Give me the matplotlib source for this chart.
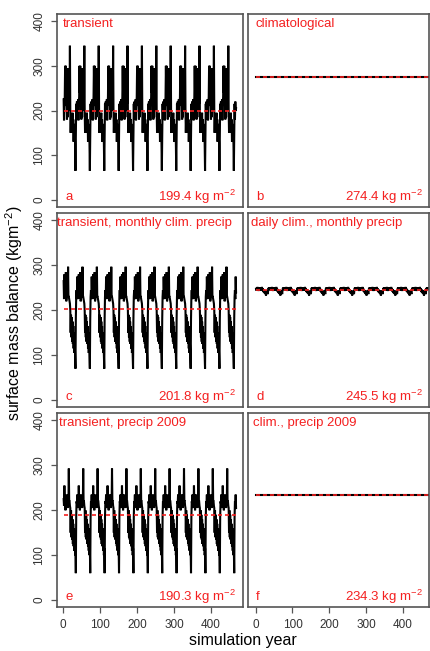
import numpy as np
import matplotlib
matplotlib.use("Agg")
import matplotlib.pyplot as plt

plt.rcParams['font.family'] = ['Liberation Sans', 'DejaVu Sans']
plt.rcParams['mathtext.fontset'] = 'custom'
plt.rcParams['mathtext.rm'] = 'Liberation Sans'

# one 39-year forcing cycle per run, repeated over the simulation
n_cycles = 12
years = np.arange(1, 39 * n_cycles + 1)

smb_a = [225, 178, 215, 230, 300, 240, 300, 210, 225, 180, 230, 185, 295, 215, 200,
         240, 215, 345, 200, 150, 185, 160, 190, 175, 195, 150, 180, 130, 170, 135,
         160, 125, 65, 150, 215, 180, 220, 200, 205]
smb_b = [274.4] * 39
smb_c = [265, 225, 280, 235, 270, 230, 285, 220, 225, 250, 235, 235, 297, 230, 230,
         225, 220, 215, 200, 150, 190, 140, 185, 130, 175, 125, 165, 115, 150, 105,
         130, 95, 70, 180, 230, 245, 225, 275, 240]
smb_d = [248, 244, 250, 246, 252, 247, 249, 243, 250, 246, 251, 245, 248, 244, 250,
         247, 252, 246, 249, 242, 247, 240, 245, 238, 244, 236, 242, 233, 240, 238,
         244, 240, 236, 245, 250, 247, 251, 245, 249]
smb_e = [225, 210, 255, 215, 220, 200, 235, 220, 210, 230, 225, 205, 235, 215, 293,
         220, 220, 210, 205, 150, 200, 140, 190, 135, 180, 125, 170, 120, 160, 110,
         150, 100, 115, 60, 185, 220, 215, 235, 205]
smb_f = [234.3] * 39

series = [smb_a, smb_b, smb_c, smb_d, smb_e, smb_f]
means = [199.4, 274.4, 201.8, 245.5, 190.3, 234.3]
titles = ["transient", "climatological", "transient, monthly clim. precip",
          "daily clim., monthly precip", "transient, precip 2009", "clim., precip 2009"]
letters = ["a", "b", "c", "d", "e", "f"]

W, H = 430, 651
col_l = [57, 248.3]
col_r = [242.7, 429.5]
row_t = [14, 213.3, 413.3]
row_b = [207, 407.3, 607.3]
title_x = [6, 7, 0.5, 3, 2, 5]   # px offset of the title from the box edge
xlims = [(-17, 486), (-20, 472)]

red = '#f42020'
grey = '#555555'

fig = plt.figure(figsize=(W / 100, H / 100), dpi=100)

for i in range(6):
    r, c = divmod(i, 2)
    l, rr, t, b = col_l[c], col_r[c], row_t[r], row_b[r]
    ax = fig.add_axes([l / W, 1 - b / H, (rr - l) / W, (b - t) / H])

    vals = np.tile(series[i], n_cycles)
    ax.plot(years, vals, color='black', lw=1.5, solid_joinstyle='miter')
    ax.hlines(means[i], years[0], years[-1], colors=red, lw=1.2,
              linestyles=(0, (2.4, 1.8)))

    ax.set_xlim(*xlims[c])
    ax.set_ylim(-16, 416)

    for s in ax.spines.values():
        s.set_color(grey)
        s.set_linewidth(1.2)

    ax.tick_params(colors=grey, labelcolor='#333333', length=4.5, width=0.9,
                   labelsize=8.5, pad=4)
    if c == 0:
        ax.set_yticks([0, 100, 200, 300, 400])
        ax.set_yticklabels(['0', '100', '200', '300', '400'], rotation=90, va='center')
    else:
        ax.set_yticks([])
    if r == 2:
        ax.set_xticks([0, 100, 200, 300, 400])
    else:
        ax.set_xticks([])

    w_ax = rr - l
    h_ax = b - t
    ax.text(title_x[i] / w_ax, 1 - 10 / h_ax, titles[i], transform=ax.transAxes,
            color=red, fontsize=9.5, ha='left', va='center')
    ax.text(8 / w_ax, 10 / h_ax, letters[i], transform=ax.transAxes,
            color=red, fontsize=9.5, ha='left', va='center')
    ax.text(1 - 7 / w_ax, 10 / h_ax, f"{means[i]:.1f} kg m$^{{-2}}$",
            transform=ax.transAxes, color=red, fontsize=9.5, ha='right', va='center')

fig.text(14 / W, 1 - 313 / H, "surface mass balance (kgm$^{-2}$)", rotation=90,
         ha='center', va='center', fontsize=11.5)
fig.text(243 / W, 1 - 641 / H, "simulation year", ha='center', va='center',
         fontsize=11.5)

fig.savefig("out.png", dpi=100)
